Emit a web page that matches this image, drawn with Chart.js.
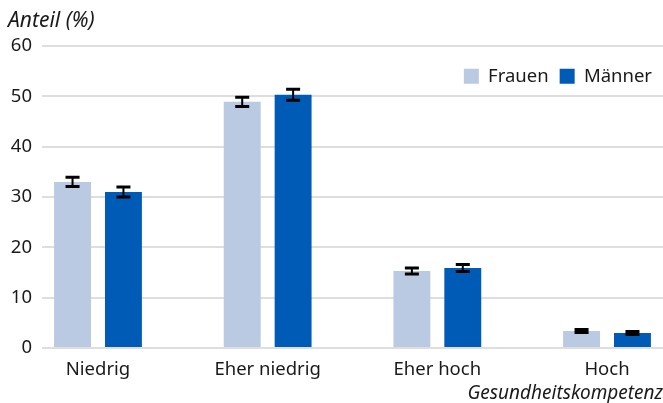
<!DOCTYPE html>
<html>
<head>
<meta charset="utf-8">
<script src="https://cdn.jsdelivr.net/npm/chart.js@4.4.1/dist/chart.umd.min.js"></script>
<style>
  html, body { margin: 0; padding: 0; background: #fff; }
  #wrap { width: 663px; height: 403px; }
</style>
</head>
<body>
<div id="wrap"><canvas id="chart"></canvas></div>
<script>
// ===== Data =====
const categories = ['Niedrig', 'Eher niedrig', 'Eher hoch', 'Hoch'];
const frauen = [33.0, 48.9, 15.3, 3.4];
const maenner = [31.0, 50.3, 15.9, 3.0];
const frauenErr = [0.9, 0.9, 0.6, 0.3];
const maennerErr = [1.0, 1.1, 0.7, 0.3];
const yTicks = [0, 10, 20, 30, 40, 50, 60];

const FONT = "'Noto Sans', sans-serif";
const TEXT = '#1a1a1a';
const SIZE = 18.5;

// Error bars drawn on top of the bars
const errorBarPlugin = {
    id: 'errorBars',
    afterDatasetsDraw(chart) {
        const ctx = chart.ctx;
        const yScale = chart.scales.y;
        chart.data.datasets.forEach((ds, di) => {
            const meta = chart.getDatasetMeta(di);
            meta.data.forEach((bar, i) => {
                const v = ds.data[i].y;
                const e = ds.errors[i];
                const top = yScale.getPixelForValue(v + e);
                const bot = yScale.getPixelForValue(v - e);
                const half = 7;
                ctx.save();
                ctx.strokeStyle = '#000';
                ctx.lineWidth = 2;
                ctx.beginPath();
                ctx.moveTo(bar.x, top);
                ctx.lineTo(bar.x, bot);
                ctx.stroke();
                ctx.lineWidth = 3;
                ctx.beginPath();
                ctx.moveTo(bar.x - half, top);
                ctx.lineTo(bar.x + half, top);
                ctx.moveTo(bar.x - half, bot);
                ctx.lineTo(bar.x + half, bot);
                ctx.stroke();
                ctx.restore();
            });
        });
    }
};

// Legend sits inside the plot: no layout height, no clipping
const legendInsidePlugin = {
    id: 'legendInside',
    afterInit(chart) {
        const legend = chart.legend;
        if (!legend) return;
        const origFit = legend.fit;
        legend.fit = function () {
            origFit.call(this);
            this.height = 0;
        };
        legend.draw = function () {
            if (this.options.display) this._draw();
        };
    }
};

const ctx = document.getElementById('chart').getContext('2d');

new Chart(ctx, {
    type: 'bar',
    data: {
        datasets: [{
            label: 'Frauen',
            data: frauen.map((v, i) => ({ x: i, y: v })),
            errors: frauenErr,
            backgroundColor: '#b9cae2',
            borderWidth: 0
        }, {
            label: 'Männer',
            data: maenner.map((v, i) => ({ x: i, y: v })),
            errors: maennerErr,
            backgroundColor: '#005bb7',
            borderWidth: 0
        }]
    },
    options: {
        responsive: true,
        maintainAspectRatio: false,
        animation: false,
        categoryPercentage: 0.6,
        barPercentage: 0.725,
        layout: { padding: { left: 8, right: 0, top: 0, bottom: 0 } },
        plugins: {
            title: {
                display: true,
                text: 'Anteil (%)',
                align: 'start',
                color: TEXT,
                font: { family: FONT, size: 21, style: 'italic', weight: 'normal', lineHeight: 1.2 },
                padding: { top: 8, bottom: 12.8 }
            },
            legend: {
                position: 'top',
                align: 'end',
                title: { display: true, text: ' ', font: { size: 10, lineHeight: 1 }, padding: 0 },
                labels: {
                    boxWidth: 15,
                    boxHeight: 15,
                    padding: 11,
                    color: TEXT,
                    font: { family: FONT, size: SIZE }
                }
            },
            tooltip: { enabled: false }
        },
        scales: {
            x: {
                type: 'linear',
                offset: false,
                min: -0.33,
                max: 3.33,
                afterBuildTicks: (scale) => {
                    scale.ticks = categories.map((c, i) => ({ value: i }));
                },
                afterFit: (scale) => { scale.height = 55; },
                grid: { display: false, offset: false, drawTicks: false },
                border: { display: false },
                ticks: {
                    color: TEXT,
                    font: { family: FONT, size: SIZE },
                    padding: 11,
                    callback: (v) => categories[v]
                },
                title: {
                    display: true,
                    text: 'Gesundheitskompetenz',
                    align: 'end',
                    color: TEXT,
                    font: { family: FONT, size: 19, style: 'italic', lineHeight: 1.0 },
                    padding: { top: 0, bottom: 0 }
                }
            },
            y: {
                min: 0,
                max: 60,
                afterBuildTicks: (scale) => {
                    scale.ticks = yTicks.map(v => ({ value: v }));
                },
                afterFit: (scale) => { scale.width = 34; },
                grid: { color: '#dedede', lineWidth: 2, drawTicks: false },
                border: { display: false },
                ticks: {
                    color: TEXT,
                    font: { family: FONT, size: SIZE },
                    padding: 10
                }
            }
        }
    },
    plugins: [errorBarPlugin, legendInsidePlugin]
});
</script>
</body>
</html>
